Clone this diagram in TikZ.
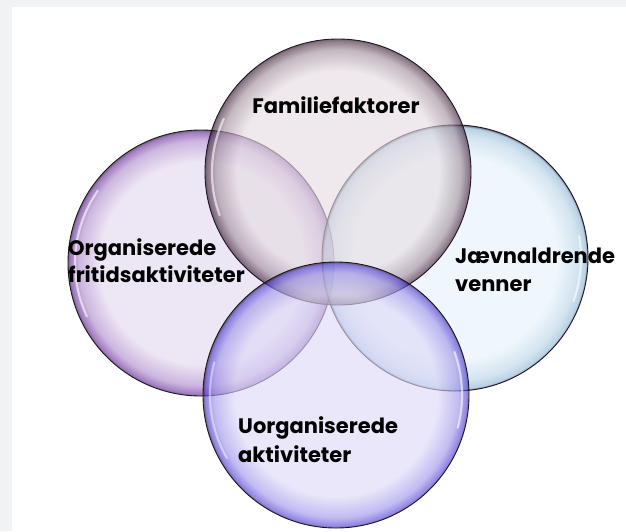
\documentclass[tikz,border=0pt]{standalone}
\usepackage{fontspec}
\setmainfont{Poppins}
\definecolor{pagegray}{HTML}{F1F2F4}
\definecolor{inT}{HTML}{E6DDE3}\definecolor{rimT}{HTML}{4E3046}
\definecolor{inL}{HTML}{E4D8F0}\definecolor{rimL}{HTML}{6E2FA0}
\definecolor{inR}{HTML}{E8F3FB}\definecolor{rimR}{HTML}{8DB8D6}
\definecolor{inB}{HTML}{DEDAF8}\definecolor{rimB}{HTML}{5040D8}
\definecolor{edgeC}{HTML}{1E1426}
\pgfdeclareradialshading{glassT}{\pgfpointorigin}{color(0bp)=(inT); color(19bp)=(inT); color(23bp)=(rimT!45!inT); color(24.6bp)=(rimT); color(25bp)=(edgeC); color(50bp)=(edgeC)}
\pgfdeclareradialshading{glassL}{\pgfpointorigin}{color(0bp)=(inL); color(19bp)=(inL); color(23bp)=(rimL!45!inL); color(24.6bp)=(rimL); color(25bp)=(edgeC); color(50bp)=(edgeC)}
\pgfdeclareradialshading{glassR}{\pgfpointorigin}{color(0bp)=(inR); color(19bp)=(inR); color(23bp)=(rimR!50!inR); color(24.6bp)=(rimR); color(25bp)=(edgeC); color(50bp)=(edgeC)}
\pgfdeclareradialshading{glassB}{\pgfpointorigin}{color(0bp)=(inB); color(19bp)=(inB); color(23bp)=(rimB!45!inB); color(24.6bp)=(rimB); color(25bp)=(edgeC); color(50bp)=(edgeC)}
\tikzset{
  bubble/.style={circle, minimum size=266pt, inner sep=0pt, draw=edgeC, line width=0.9pt, fill opacity=0.63, draw opacity=1},
  shine/.style={white, line width=2.2pt, opacity=0.6, line cap=round},
  lbl/.style={font=\fontsize{21}{28}\selectfont\bfseries, text=black, inner sep=0pt}
}
\begin{document}
\begin{tikzpicture}[x=1pt,y=-1pt]
\useasboundingbox (0,0) rectangle (626,531);
\fill[pagegray] (0,0) rectangle (626,531);
\fill[white] (12,7) rectangle (626,531);
% circles
\node[bubble, shading=glassL] (cL) at (201,263) {};
\node[bubble, shading=glassR] (cR) at (455,258) {};
\node[bubble, shading=glassT] (cT) at (338,172) {};
\node[bubble, shading=glassB] (cB) at (336,395) {};
% glass highlights
\draw[shine] ([shift={(201,263)}]155:126) arc[start angle=155, end angle=215, radius=126];
\draw[shine] ([shift={(338,172)}]160:126) arc[start angle=160, end angle=205, radius=126];
\draw[shine] ([shift={(455,258)}]-10:126) arc[start angle=-10, end angle=20, radius=126];
\draw[shine] ([shift={(336,395)}]-20:126) arc[start angle=-20, end angle=15, radius=126];
\draw[shine, opacity=0.45] ([shift={(336,395)}]150:126) arc[start angle=150, end angle=195, radius=126];
% labels
\node[lbl, anchor=base] (tFam) at (336,113) {Familiefaktorer};
\node[lbl, anchor=base west] (tOrg1) at (68,255) {Organiserede};
\node[lbl, anchor=base west] (tOrg2) at (68,282) {fritidsaktiviteter};
\node[lbl, anchor=base west] (tJae1) at (455,263) {Jævnaldrende};
\node[lbl, anchor=base west] (tJae2) at (455,291) {venner};
\node[lbl, anchor=base west] (tUor1) at (238,433) {Uorganiserede};
\node[lbl, anchor=base west] (tUor2) at (238,462) {aktiviteter};
\end{tikzpicture}
\end{document}
